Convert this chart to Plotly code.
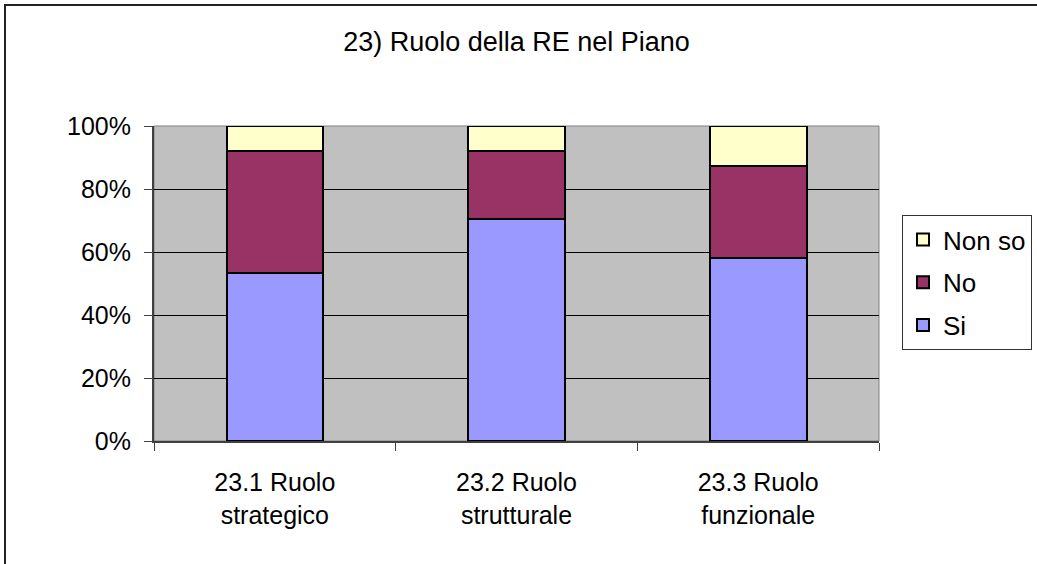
import plotly.graph_objects as go

categories = ["23.1 Ruolo<br>strategico", "23.2 Ruolo<br>strutturale", "23.3 Ruolo<br>funzionale"]
si = [53.2, 70.4, 58.0]
no = [39.0, 21.8, 29.4]
non_so = [7.8, 7.8, 12.6]

series = [("Si", si, "#9999FF", 3), ("No", no, "#993366", 2), ("Non so", non_so, "#FFFFCC", 1)]

W, H = 1037, 564
PX0, PX1, PY0, PY1 = 154, 879, 126, 441   # plot area in pixels
L, R, T, B = PX0, W - PX1, PY0, H - PY1
pw, ph = PX1 - PX0, PY1 - PY0


def px_x(p):
    return (p - PX0) / pw


def px_y(p):
    return (PY1 - p) / ph


fig = go.Figure()
for name, vals, color, rank in series:
    fig.add_trace(go.Bar(x=categories, y=vals, name=name, legendgroup=name, legendrank=rank,
                         marker=dict(color=color, line=dict(color="black", width=2)),
                         width=0.4))

font = "Liberation Sans, Arial, sans-serif"
fig.update_layout(
    width=W, height=H,
    margin=dict(l=L, r=R, t=T, b=B, autoexpand=False),
    barmode="stack",
    paper_bgcolor="white",
    plot_bgcolor="#C0C0C0",
    font=dict(family=font, size=25, color="black"),
    title=dict(text="23) Ruolo della RE nel Piano", x=0.5, xref="paper",
               y=1 - 42 / H, yanchor="middle", font=dict(size=27)),
    legend=dict(x=px_x(902), y=px_y(215), xanchor="left", yanchor="top",
                traceorder="grouped", tracegroupgap=6,
                bordercolor="#333333", borderwidth=1, bgcolor="white",
                font=dict(size=26)),
    shapes=[
        dict(type="rect", xref="paper", yref="paper", x0=0, x1=1, y0=0, y1=1,
             line=dict(color="#808080", width=1), layer="below"),
        dict(type="rect", xref="paper", yref="paper",
             x0=px_x(5), x1=px_x(W + 20), y0=px_y(H + 20), y1=px_y(5),
             line=dict(color="#222222", width=2), fillcolor="rgba(0,0,0,0)"),
    ],
)
fig.update_yaxes(range=[0, 100], tickvals=[0, 20, 40, 60, 80, 100],
                 ticktext=["0%", "20%", "40%", "60%", "80%", "100%"],
                 showgrid=True, gridcolor="black", gridwidth=1,
                 ticks="outside", ticklen=8, tickcolor="#404040",
                 showline=True, linecolor="#404040", linewidth=2,
                 ticklabelstandoff=8, zeroline=False)
fig.update_xaxes(tickson="boundaries", ticks="outside", ticklen=8, tickcolor="#404040",
                 showline=True, linecolor="#404040", linewidth=2,
                 ticklabelstandoff=18)

# drop the default page margin so the chart sits at the window's top-left corner
fig.write_html("out.html", config={"displayModeBar": False},
               post_script="document.body.style.margin='0';")
